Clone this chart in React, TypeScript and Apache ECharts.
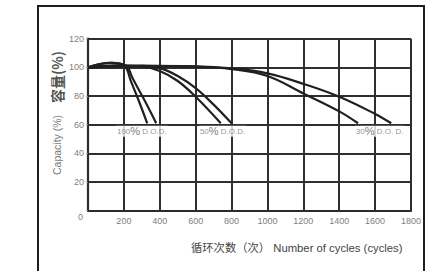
import React, { useEffect, useRef } from "react";
import * as echarts from "echarts";

const xTicks = [0, 200, 400, 600, 800, 1000, 1200, 1400, 1600, 1800];
const yTicks = [0, 20, 40, 60, 80, 100, 120];

const dod100a: [number, number][] = [
  [0, 100], [60, 102.2], [130, 103.2], [200, 101.5],
  [240, 90], [285, 76], [330, 61],
];
const dod100b: [number, number][] = [
  [0, 100], [60, 102.2], [130, 103.2], [210, 101.3],
  [250, 92], [315, 77], [380, 61],
];
const dod50a: [number, number][] = [
  [0, 100], [150, 101.2], [300, 100.6], [400, 97.5], [500, 90.5],
  [600, 79.5], [740, 61],
];
const dod50b: [number, number][] = [
  [0, 100], [150, 101.2], [300, 101], [400, 99.5], [500, 94],
  [600, 85.5], [700, 74], [800, 61],
];
const dod30a: [number, number][] = [
  [0, 100], [300, 101], [600, 100.5], [800, 98.8], [1000, 94],
  [1200, 81.8], [1400, 69.3], [1505, 61],
];
const dod30b: [number, number][] = [
  [0, 100], [300, 101], [600, 100.7], [800, 99.3], [1000, 95.8],
  [1200, 88.5], [1400, 79.5], [1600, 67.5], [1690, 61],
];

const dodLabels = [
  { name: "100{p|%} D.O.D.", x: 300, y: 55.5 },
  { name: "50{p|%} D.O.D.", x: 750, y: 55.5 },
  { name: "30{p|%} D.O. D.", x: 1625, y: 55.5 },
];

export default function App() {
  const ref = useRef<HTMLDivElement>(null);
  useEffect(() => {
    if (!ref.current) return;
    const chart = echarts.init(ref.current, null, { renderer: "svg" });
    const lineColor = "#221f1f";
    const mk = (data: [number, number][]) => ({
      type: "line",
      data,
      smooth: 0.4,
      showSymbol: false,
      symbol: "none",
      lineStyle: { color: lineColor, width: 2.2 },
      z: 3,
    });
    chart.setOption({
      animation: false,
      backgroundColor: "#ffffff",
      grid: { left: 88, right: 17, top: 38.7, bottom: 60.3 },
      xAxis: {
        type: "value",
        min: 0,
        max: 1800,
        interval: 200,
        axisLine: { show: true, lineStyle: { color: "#2c2c2c", width: 2.2 } },
        axisTick: { show: false },
        splitLine: { show: true, lineStyle: { color: "#2f2f2f", width: 2 } },
        axisLabel: {
          showMinLabel: false,
          color: "#808080",
          fontSize: 9,
          fontFamily: "Liberation Sans, Arial, sans-serif",
          margin: 6,
          formatter: (v: number) => (xTicks.includes(v) ? String(v) : ""),
        },
      },
      yAxis: {
        type: "value",
        min: 0,
        max: 120,
        interval: 20,
        axisLine: { show: true, lineStyle: { color: "#2c2c2c", width: 2.2 } },
        axisTick: { show: true, length: 2, lineStyle: { color: "#999" } },
        splitLine: { show: true, lineStyle: { color: "#2f2f2f", width: 2 } },
        axisLabel: {
          color: "#808080",
          fontSize: 9,
          fontFamily: "Liberation Sans, Arial, sans-serif",
          margin: 4,
          formatter: (v: number) =>
            v === 0 ? "{z|0}" : yTicks.includes(v) ? String(v) : "",
          rich: {
            z: {
              color: "#808080",
              fontSize: 9,
              fontFamily: "Liberation Sans, Arial, sans-serif",
              padding: [12, 1, 0, 0],
            },
          },
        },
      },
      graphic: [
        {
          type: "rect",
          shape: { x: 38, y: 6, width: 386, height: 290 },
          style: { fill: "none", stroke: "#1e1e1e", lineWidth: 2 },
          silent: true,
        },
        {
          type: "text",
          x: 57,
          y: 145,
          rotation: Math.PI / 2,
          style: {
            text: "Capacity (%)",
            fill: "#7a7a7a",
            font: "10.5px 'Liberation Sans', Arial, sans-serif",
            align: "center",
            verticalAlign: "middle",
          },
        },
        {
          type: "text",
          x: 57,
          y: 77,
          rotation: Math.PI / 2,
          style: {
            text: "容量(%)",
            fill: "#555",
            font: "bold 14px 'Noto Sans CJK SC', sans-serif",
            align: "center",
            verticalAlign: "middle",
          },
        },
        {
          type: "text",
          x: 191,
          y: 248,
          style: {
            text: "循环次数（次） Number of cycles (cycles)",
            fill: "#444",
            font: "11.3px 'Liberation Sans', 'Noto Sans CJK SC', sans-serif",
            align: "left",
            verticalAlign: "middle",
          },
        },
      ],
      series: [
        mk(dod100a),
        mk(dod100b),
        mk(dod50a),
        mk(dod50b),
        mk(dod30a),
        mk(dod30b),
        {
          type: "scatter",
          symbolSize: 0,
          data: dodLabels.map((d) => ({ value: [d.x, d.y], name: d.name })),
          label: {
            show: true,
            position: "inside",
            formatter: (p: any) => p.name,
            color: "#777",
            fontSize: 8,
            fontFamily: "Liberation Sans, Arial, sans-serif",
            rich: {
              p: {
                color: "#555",
                fontSize: 11,
                fontFamily: "Liberation Sans, Arial, sans-serif",
              },
            },
            backgroundColor: "#ffffff",
            padding: [0, 1, 0, 1],
          },
          z: 5,
        },
      ],
    });
    return () => chart.dispose();
  }, []);
  return (
    <div
      ref={ref}
      style={{ width: 428, height: 271, position: "absolute", left: 0, top: 0 }}
    />
  );
}
